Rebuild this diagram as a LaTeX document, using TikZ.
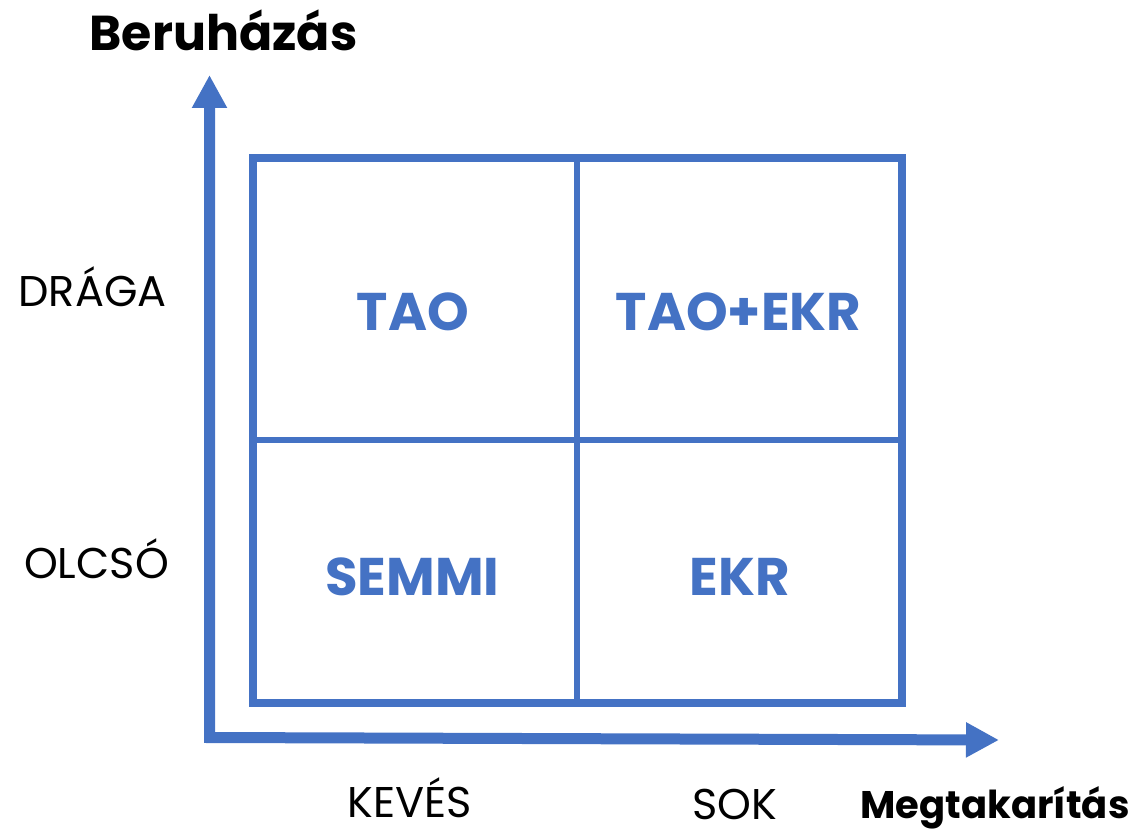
\documentclass[tikz,border=0pt]{standalone}
\usepackage{fontspec}
\setmainfont{Poppins}
\usetikzlibrary{arrows.meta}
\definecolor{obl}{HTML}{4472C4}
\tikzset{
  axis/.style={draw=obl, line width=11pt, line join=miter,
    {Triangle[width=33pt,length=33pt]}-{Triangle[width=33pt,length=33pt]}},
  outer/.style={draw=obl, line width=8pt, line join=miter},
  inner/.style={draw=obl, line width=6pt},
  cell/.style={text=obl, font=\fontsize{53}{56}\selectfont\bfseries, anchor=base, inner sep=0pt},
  lvl/.style={text=black, font=\fontsize{43}{46}\selectfont, anchor=base, inner sep=0pt},
  ttl/.style={text=black, font=\fontsize{49}{52}\selectfont\bfseries, anchor=base, inner sep=0pt},
}
\begin{document}
\begin{tikzpicture}[x=1pt,y=-1pt]
\useasboundingbox (0,0) rectangle (1139,832);
\coordinate (ytip) at (209.5,75);
\coordinate (corner) at (209.5,737.5);
\coordinate (xtip) at (999,740);
\draw[axis] (ytip) -- (corner) -- (xtip);
\draw[outer] (253,157.5) rectangle (901.5,703);
\draw[inner] (577,157.5) -- (577,703);
\draw[inner] (253,440) -- (901.5,440);
\node[cell] (tao) at (413,330) {TAO};
\node[cell] (taoekr) at (738.5,330) {TAO+EKR};
\node[cell] (semmi) at (412.5,595) {SEMMI};
\node[cell] (ekr) at (740,595) {EKR};
\node[lvl] (draga) at (92.5,306) {DRÁGA};
\node[lvl] (olcso) at (96.5,578) {OLCSÓ};
\node[lvl] (keves) at (410,817) {KEVÉS};
\node[lvl, text depth=0pt] (sok) at (735,819) {SOK};
\node[ttl] (ber) at (223.5,51) {Beruházás};
\node[ttl, font=\fontsize{38.5}{40}\selectfont\bfseries] (meg) at (995,818) {Megtakarítás};
\end{tikzpicture}
\end{document}
